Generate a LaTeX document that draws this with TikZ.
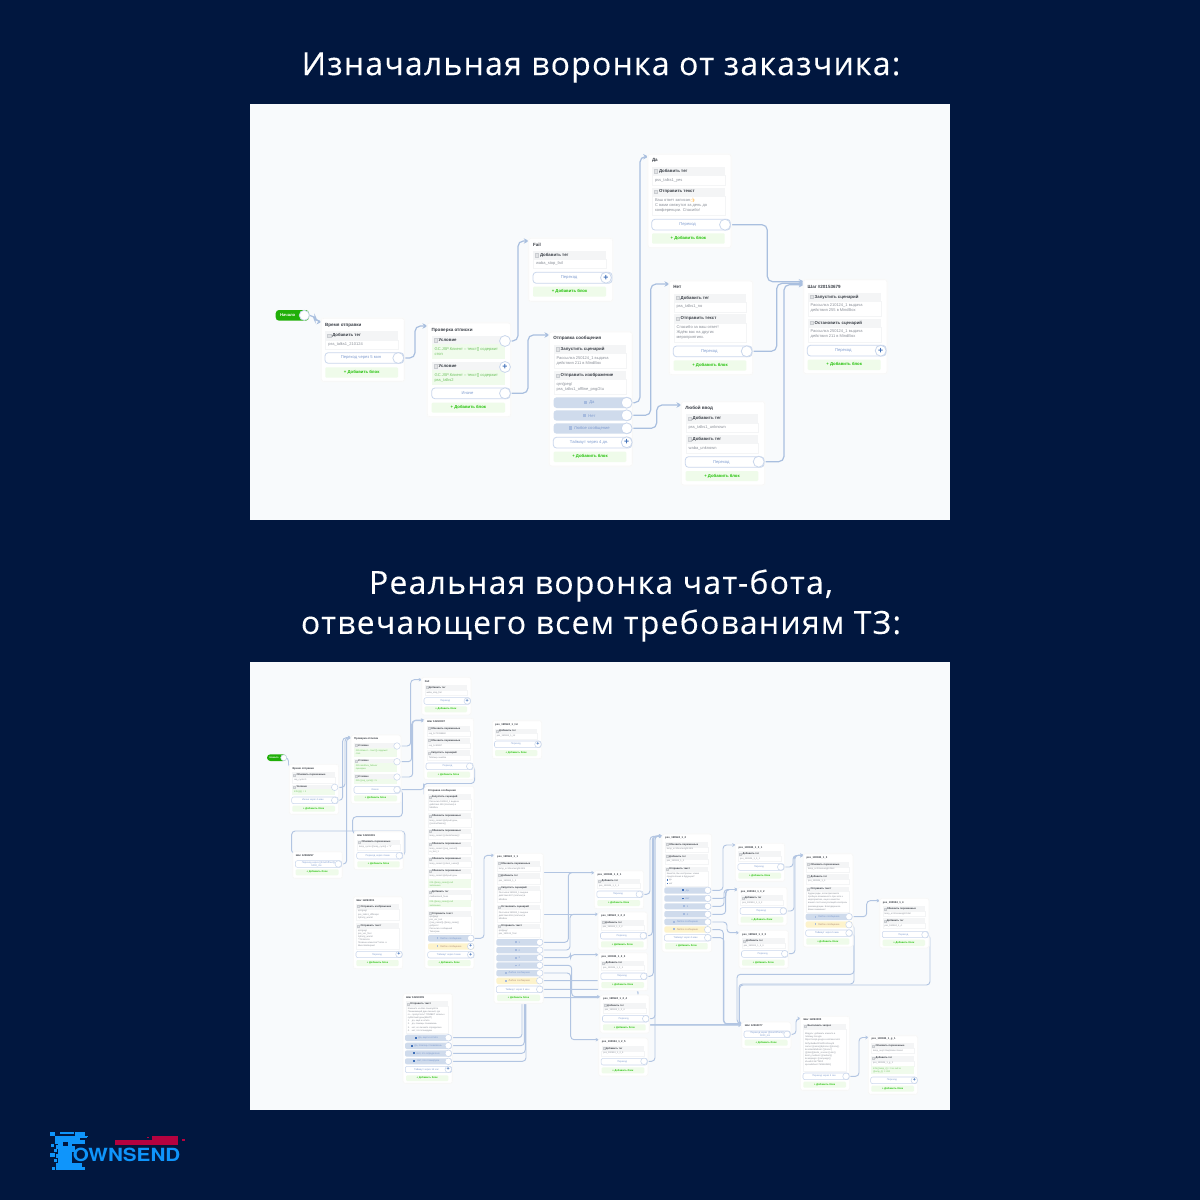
\documentclass[tikz,border=0pt]{standalone}
\usepackage{fontspec}
\setmainfont{Liberation Sans}
\newfontfamily\titlefont[LetterSpace=4,FakeBold=0.25]{Open Sans}
\newfontfamily\emj{Noto Emoji}
\newfontfamily\logofont{TeX Gyre Heros}
\usetikzlibrary{arrows.meta,calc}
\pgfdeclarelayer{panellayer}\pgfdeclarelayer{connlayer}
\pgfsetlayers{panellayer,connlayer,main}
\definecolor{navy}{HTML}{01173F}
\definecolor{panelc}{HTML}{F8FAFC}
\definecolor{hdrc}{HTML}{F4F5F6}
\definecolor{linec}{HTML}{A9BFDF}
\definecolor{btnline}{HTML}{CAD7EC}
\definecolor{btntxt}{HTML}{7F9CD0}
\definecolor{blueb}{HTML}{CFDBEC}
\definecolor{yelb}{HTML}{FDF3CC}
\definecolor{addb}{HTML}{EFFBEA}
\definecolor{addt}{HTML}{25C20A}
\definecolor{grnb}{HTML}{F0FBEC}
\definecolor{grnt}{HTML}{6CC25C}
\definecolor{bodyt}{HTML}{8A8F98}
\definecolor{darkt}{HTML}{3A3F47}
\definecolor{plusc}{HTML}{3F6FB8}
\definecolor{logob}{HTML}{0F95FB}
\definecolor{logor}{HTML}{B5023F}
\tikzset{
  x=0.75pt,y=-0.75pt,
  bxbase/.style={inner sep=0pt,outer sep=0pt,rectangle},
  panelbox/.style={bxbase,fill=panelc},
  cardbox/.style={bxbase,fill=white,rounded corners=1.5pt,draw=white,preaction={draw=black!2,line width=\shw},preaction={draw=black!3.5,line width=1.2pt}},
  hdrbox/.style={bxbase,fill=hdrc},
  bodybox/.style={bxbase,fill=white,draw=hdrc,line width=.3pt},
  grnbox/.style={bxbase,fill=grnb},
  btnbox/.style={bxbase,fill=white,draw=btnline,line width=\blw,rounded corners=\brc,text=btntxt},
  bluebox/.style={bxbase,fill=blueb,rounded corners=\brc,text=btntxt},
  yelbox/.style={bxbase,fill=yelb,rounded corners=\brc,text=btntxt!60!orange},
  addbox/.style={bxbase,fill=addb,rounded corners=.8pt,text=addt},
  startbox/.style={bxbase,fill=addt!90!black,rounded corners=2.5pt,text=white},
  portst/.style={circle,inner sep=0pt,outer sep=0pt,fill=white,draw=btnline,line width=\blw,minimum size=\psize pt},
  plusst/.style={portst,text=plusc,font=\bfseries\fontsize{\psfont}{\psfont}\selectfont},
  txtst/.style={inner sep=0pt,outer sep=0pt,anchor=west,align=left},
  linkA/.style={draw=linec,line width=.9pt,rounded corners=4pt,-{Stealth[length=4.2pt,width=4pt]}},
  linkB/.style={draw=linec!90,line width=.7pt,rounded corners=2.6pt,-{Stealth[length=2.8pt,width=2.6pt]}},
  linkN/.style={draw=linec!90,line width=.7pt,rounded corners=2.6pt},
}
\newcount\nn
\newcommand\bx[7]{\pgfmathsetmacro\bw{((#5)-(#3))*0.75}\pgfmathsetmacro\bh{((#6)-(#4))*0.75}%
  \node[#1,minimum width=\bw pt,minimum height=\bh pt] (#2) at ({((#3)+(#5))/2},{((#4)+(#6))/2}) {#7};}
\newcommand\abx[6]{\global\advance\nn by 1 \bx{#1}{n\the\nn}{#2}{#3}{#4}{#5}{#6}}
\newcommand\txt[4]{\global\advance\nn by 1 \node[txtst,font=#3] (n\the\nn) at ({#1},{#2}) {#4};}
\newcommand\setbig{%
  \def\shw{2.6pt}\def\blw{.6pt}\def\brc{2.4pt}\def\psize{8.2}\def\psfont{6.5}%
  \def\ftitle{\fontsize{3.4}{4.2}\selectfont\bfseries\color{darkt}}%
  \def\fhdr{\fontsize{3.25}{4}\selectfont\bfseries\color{darkt}}%
  \def\fbody{\fontsize{3}{3.75}\selectfont\color{bodyt}}%
  \def\fgrn{\fontsize{3}{3.75}\selectfont\color{grnt}}%
  \def\fbtn{\fontsize{3.1}{3.8}\selectfont}%
  \def\fadd{\fontsize{3.2}{4}\selectfont\bfseries}%
  \def\hin{7}\def\bin{3}\def\iwid{3.2}\def\iin{2.2}\def\bkern{5pt}\def\irule{2.4pt}}
\newcommand\setsmall{%
  \def\shw{2pt}\def\blw{.4pt}\def\brc{1.5pt}\def\psize{4.9}\def\psfont{4}%
  \def\ftitle{\fontsize{2}{2.5}\selectfont\bfseries\color{darkt}}%
  \def\fhdr{\fontsize{1.9}{2.4}\selectfont\bfseries\color{darkt}}%
  \def\fbody{\fontsize{1.7}{2.35}\selectfont\color{bodyt}}%
  \def\fgrn{\fontsize{1.7}{2.35}\selectfont\color{grnt}}%
  \def\fbtn{\fontsize{1.85}{2.3}\selectfont}%
  \def\fadd{\fontsize{1.9}{2.4}\selectfont\bfseries}%
  \def\hin{4.2}\def\bin{1.8}\def\iwid{2}\def\iin{1.2}\def\bkern{3pt}\def\irule{1.4pt}}
% header + white body
\newcommand\hd[5]{% x0 x1 y0 y1 text
  \abx{hdrbox}{#1}{#3}{#2}{#4}{}%
  \abx{bxbase,fill=bodyt!25,draw=bodyt!45,line width=.12pt}{(#1)+\iin}{((#3)+(#4))/2-\iwid/2}{(#1)+\iin+\iwid}{((#3)+(#4))/2+\iwid/2}{}%
  \txt{(#1)+\hin}{((#3)+(#4))/2}{\fhdr}{#5}}
\newcommand\blk[7]{% x0 x1 y0 y1 y2 hdr body
  \hd{#1}{#2}{#3}{#4}{#6}%
  \abx{bodybox}{#1}{#4}{#2}{#5}{}%
  \txt{(#1)+\bin}{((#4)+(#5))/2}{\fbody}{#7}}
\newcommand\gblk[7]{% x0 x1 y0 y1 y2 hdr greenbody
  \hd{#1}{#2}{#3}{#4}{#6}%
  \abx{grnbox}{#1}{#4}{#2}{#5}{}%
  \txt{(#1)+\bin}{((#4)+(#5))/2}{\fgrn}{#7}}
\newcommand\gbody[5]{% x0 x1 y1 y2 text
  \abx{grnbox}{#1}{#3}{#2}{#4}{}%
  \txt{(#1)+\bin}{((#3)+(#4))/2}{\fgrn}{#5}}
\newcommand\btn[6]{\abx{#1,font=\fbtn}{#2}{#3}{#4}{#5}{#6\kern\bkern}}
\newcommand\ic{{\color{btntxt!70}\rule{\irule}{\irule}}\kern.8pt\ }
\newcommand\icd{{\color{plusc}\rule{\irule}{\irule}}\kern.8pt\ }
\newcommand\add[4]{\abx{addbox,font=\fadd}{#1}{#2}{#3}{#4}{+ Добавить блок}}
\newcommand\port[3]{\node[portst] (#1) at (#2,#3) {};}
\newcommand\pplus[3]{\node[plusst] (#1) at (#2,#3) {+};}
% small one-tag card
\newcommand\tagcard[5]{% name x y title tag
  \bx{cardbox}{#1}{#2}{#3}{(#2)+48}{(#3)+36.7}{}%
  \txt{(#2)+2.5}{(#3)+3.6}{\ftitle}{#4}%
  \blk{(#2)+2.3}{(#2)+45}{(#3)+7.3}{(#3)+12}{(#3)+17.3}{Добавить тег}{#5}%
  \btn{btnbox}{(#2)+1.8}{(#3)+19.7}{(#2)+48}{(#3)+26.3}{Переход}%
  \add{(#2)+2.3}{(#3)+28.7}{(#2)+45}{(#3)+34.7}}
\newcommand\lk[5][linkB]{% style, from, midx, card, dy
  \coordinate (tgt) at ($(#4.north west)+(0,#5)$);
  \coordinate (mid) at (#3,0);
  \draw[#1] (#2) -- (#2 -| mid) -- (tgt -| mid) -- (tgt);}
\begin{document}
\begin{tikzpicture}
\useasboundingbox (0,0) rectangle (1200,1200);
\begin{pgfonlayer}{panellayer}
\fill[navy] (0,0) rectangle (1200,1200);
\bx{panelbox}{panelA}{250}{104}{950}{520}{}
\bx{panelbox}{panelB}{250}{662}{950}{1110}{}
\end{pgfonlayer}
\node[text=white,font=\titlefont\fontsize{23.9}{28}\selectfont] (title1) at (601,67.5) {Изначальная воронка от заказчика:};
\node[text=white,font=\titlefont\fontsize{23.9}{28}\selectfont] (title2) at (601,585.5) {Реальная воронка чат-бота,};
\node[text=white,font=\titlefont\fontsize{23.9}{28}\selectfont] (title3) at (601,625.5) {отвечающего всем требованиям ТЗ:};

%%%%%%%%%%%%%%%%%%%% TOP DIAGRAM
\setbig
\bx{startbox,font=\fbtn\bfseries}{start}{275.7}{310}{309}{320.7}{Начало\kern7pt}
\node[portst,minimum size=7.5pt] (pstart) at (304.3,315.3) {};

\bx{cardbox}{c1}{322}{319}{403.7}{380.7}{}
\txt{325}{325}{\ftitle}{Время отправки}
\blk{325.3}{398}{331}{339.7}{349}{Добавить тег}{pss\_talks1\_210124}
\btn{btnbox}{325}{352.7}{403.7}{363.3}{Переход через 5 мин}
\add{325.3}{367.3}{398}{377.7}
\port{p1}{398.3}{358}

\bx{cardbox}{c2}{428}{323.7}{510}{416}{}
\txt{431.7}{330}{\ftitle}{Проверка отписки}
\gblk{431.7}{505}{336}{344.3}{358.7}{Условие}{GC.JSP.Клиент – текст[] содержит\\стоп}
\gblk{431.7}{505}{362}{370.3}{384.7}{Условие}{GC.JSP.Клиент – текст[] содержит\\pss\_talks2}
\btn{btnbox}{431.7}{388}{510}{398.7}{Иначе}
\add{431.7}{402.7}{505}{412.7}
\port{p2a}{505}{341}
\pplus{p2b}{505}{367}
\port{p2c}{505}{393.3}

\bx{cardbox}{c3}{529.3}{239}{612}{300.7}{}
\txt{533}{244.7}{\ftitle}{Fail}
\blk{533}{606}{251}{259.3}{268}{Добавить тег}{wаba\_stop\_fail}
\btn{btnbox}{533}{272.3}{612}{283.3}{Переход}
\add{533}{286.7}{606}{296.7}
\pplus{p3}{606}{277.7}

\bx{cardbox}{c4}{550}{332.7}{631.7}{465.3}{}
\txt{553.3}{338.7}{\ftitle}{Отправка сообщения}
\blk{553.7}{626.3}{345}{353.3}{367.7}{Запустить сценарий}{Рассылка 250124\_1 выдача\\действия 211 в MindBox}
\blk{553.7}{626.3}{371.3}{379.3}{394}{Отправить изображение}{qrn/jpeg/\\pss\_talks1\_offline\_png/2tu}
\btn{bluebox}{553.5}{397.3}{631.7}{408}{\ic Да}
\btn{bluebox}{553.5}{410.3}{631.7}{420.7}{\ic Нет}
\btn{bluebox}{553.5}{423.3}{631.7}{433.7}{\ic Любое сообщение}
\btn{btnbox}{553.3}{437.3}{631.7}{448}{Таймаут через 4 дн.}
\add{553.7}{451.7}{626.3}{462}
\port{p4a}{626.7}{402.7}
\port{p4b}{626.7}{415.3}
\port{p4c}{626.7}{428.3}
\pplus{p4d}{626.7}{442.3}

\bx{cardbox}{c5}{648.7}{155}{730.3}{247}{}
\txt{652}{160.7}{\ftitle}{Да}
\blk{652}{724.7}{167}{175.3}{184.7}{Добавить тег}{pss\_talks1\_yes}
\blk{652}{724.7}{187.7}{196}{215.3}{Отправить текст}{Ваш ответ записан{\color{orange!80!yellow}\emj 👍}\\С вами свяжутся за день до\\конференции. Спасибо!}
\btn{btnbox}{651.7}{219.3}{730.3}{230}{Переход}
\add{652}{233.3}{724.7}{243.7}
\port{p5}{725}{224.7}

\bx{cardbox}{c6}{670}{281.7}{752}{374}{}
\txt{673.3}{287}{\ftitle}{Нет}
\blk{673.7}{746.3}{293.7}{302}{311.7}{Добавить тег}{pss\_talks1\_no}
\blk{673.7}{746.3}{314.3}{322.7}{342}{Отправить текст}{Спасибо за ваш ответ!\\Ждём вас на других\\мероприятиях.}
\btn{btnbox}{673.3}{346}{752}{356.7}{Переход}
\add{673.7}{360.3}{746.3}{370.7}
\port{p6}{746.7}{351.3}

\bx{cardbox}{c7}{682}{402.3}{764}{484.3}{}
\txt{685.3}{408}{\ftitle}{Любой ввод}
\blk{685.7}{758.3}{414.3}{422.7}{432.3}{Добавить тег}{pss\_talks1\_unknown}
\blk{685.7}{758.3}{435}{443.3}{452.7}{Добавить тег}{waba\_unknown}
\btn{btnbox}{685.3}{456.7}{764}{467.3}{Переход}
\add{685.7}{471}{758.3}{481}
\port{p7}{758.7}{461.7}

\bx{cardbox}{c8}{804.3}{280.3}{886.3}{373}{}
\txt{807.7}{286.7}{\ftitle}{Шаг \#20153679}
\blk{807.7}{880.7}{292.7}{301}{315.7}{Запустить сценарий}{Рассылка 210124\_1 выдача\\действия 255 в MindBox}
\blk{807.7}{880.7}{318.7}{327}{341.7}{Остановить сценарий}{Рассылка 250124\_1 выдача\\действия 211 в MindBox}
\btn{btnbox}{807.3}{345.3}{886}{356}{Переход}
\add{807.7}{359.7}{880.7}{370}
\pplus{p8}{880.7}{350.7}

\begin{pgfonlayer}{connlayer}
\lk[linkA]{pstart}{315}{c1}{2.7}
\lk[linkA]{p1}{415}{c2}{2.3}
\lk[linkA]{p2a}{518}{c3}{2}
\lk[linkA]{p2c}{528}{c4}{2.3}
\lk[linkA]{p4a}{640}{c5}{1.7}
\lk[linkA]{p4b}{650.7}{c6}{2.3}
\lk[linkA]{p4c}{656.7}{c7}{2.7}
\lk[linkA]{p5}{767.3}{c8}{1.4}
\lk[linkA]{p6}{776.7}{c8}{3}
\lk[linkA]{p7}{784}{c8}{4.4}
\end{pgfonlayer}

%%%%%%%%%%%%%%%%%%%% BOTTOM DIAGRAM
\setsmall
\bx{startbox,font=\fbtn\bfseries}{bstart}{267}{754.3}{286.7}{761}{Начало\kern4pt}
\node[portst,minimum size=4.4pt] (bpstart) at (283.7,757.7) {};

% Время отправки
\bx{cardbox}{b1}{290}{765}{338}{813.7}{}
\txt{292.5}{768.7}{\ftitle}{Время отправки}
\blk{292.3}{335}{772.3}{777.3}{782.7}{Обновить переменные}{req\_cycle=0}
\gblk{292.3}{335}{784.7}{789.3}{794.7}{Условие}{\#{JS}\{\{x\}\} = 1}
\btn{btnbox}{291.7}{797}{338}{803.7}{Иначе через 6 мин}
\add{292.3}{805.7}{335}{811.7}
\port{bp1a}{334.7}{787.3}
\port{bp1b}{334.7}{800.3}

% Проверка отписки
\bx{cardbox}{b2}{351.7}{735.7}{400.3}{803}{}
\txt{354.2}{739.3}{\ftitle}{Проверка отписки}
\gblk{354}{397}{743}{748}{756.7}{Условие}{\#{JS}.Клиент – текст[] содержит\\стоп}
\gblk{354}{397}{758.7}{763.3}{772}{Условие}{\#{JS}.mindbox\_failover\\сценарии}
\gblk{354}{397}{774.3}{778.7}{784}{Условие}{\#{JS}.\{\{req\_cycle\}\} = 5}
\btn{btnbox}{354}{786.3}{400.3}{793.3}{Иначе}
\add{354}{795.3}{397}{801.3}
\port{bp2a}{397}{746}
\port{bp2b}{397}{761.7}
\port{bp2c}{397}{777}
\port{bp2d}{397}{789.7}

% Fail
\bx{cardbox}{b3}{422.3}{678}{470.3}{714.3}{}
\txt{424.8}{681.3}{\ftitle}{Fail}
\blk{424.7}{467}{685}{690}{695.3}{Добавить тег}{wаba\_stop\_fail}
\btn{btnbox}{424}{697.7}{470.3}{704.3}{Переход}
\add{424.7}{706.3}{467}{712.3}
\pplus{bp3}{467.3}{701}

% Шаг 12263097
\bx{cardbox}{b4}{424.7}{719}{473}{779}{}
\txt{427.2}{722}{\ftitle}{Шаг 12263097}
\blk{427}{470}{726}{731}{736}{Обновить переменные}{req\_b=71098860}
\blk{427}{470}{738}{743}{748}{Обновить переменные}{req\_b=80897}
\blk{427}{470}{750.3}{755.3}{760.3}{Запустить сценарий}{Таблица ошибок}
\btn{btnbox}{426}{763}{473}{769.7}{Переход}
\add{427}{771.7}{470}{777.7}
\port{bp4}{469.7}{766.3}

% pss_txt
\bx{cardbox}{b5}{493}{721.3}{541}{758}{}
\txt{495.2}{725}{\ftitle}{pss\_190924\_1\_txt}
\blk{495}{537.3}{728.7}{733.3}{738.7}{Добавить тег}{pss\_190924\_1\_txt}
\btn{btnbox}{494.5}{741}{541}{747.7}{Переход}
\add{495}{750}{537.3}{756}
\pplus{bp5}{538}{744.3}

% Отправка сообщения (long)
\bx{cardbox}{b6}{425.3}{787}{473.3}{968}{}
\txt{427.8}{790.3}{\ftitle}{Отправка сообщения}
\blk{427.7}{470.7}{794.3}{799}{810.3}{Запустить сценарий}{Рассылка 190924\_1 выдача\\действия 459 (платная) в\\Mindbox}
\blk{427.7}{470.7}{813.3}{818}{827}{Обновить переменные}{temp\_namet=Добрый день,\\{{\{\{}}contactNamе\}\}}
\blk{427.7}{470.7}{829}{833.3}{839}{Обновить переменные}{temp\_namet=\{\{clientsName\}\}!}
\blk{427.7}{470.7}{841.7}{846}{854}{Обновить переменные}{temp\_namet=\{\{req\_namet\}\}\\ru\_text\_1}
\blk{427.7}{470.7}{856.7}{861}{866.7}{Обновить переменные}{temp\_namet=\{\{client\_name\}\}!}
\blk{427.7}{470.7}{869}{873.3}{879.3}{Обновить переменные}{temp\_namet=Добрый день}
\gbody{427.7}{470.7}{879.3}{888.3}{\#{JS}.\{\{temp\_name\}\}.null\\заполнено}
\blk{427.7}{470.7}{890}{894}{900}{Добавить тег}{mailbackend\_fixes}
\gbody{427.7}{470.7}{900}{907.3}{\#{JS}.\{\{temp\_name\}\}.null\\заполнено}
\blk{427.7}{470.7}{911.3}{915.7}{933.3}{Отправить текст}{qrn/jpeg/\\pss\_ver\_text\\\{\{req\_namet\}\}.\{\{temp\_name\}\}\\доброго!\\Рассылка сообщений\\Телеграм}
\btn{bluebox}{428}{935}{474}{941.7}{\ic Любое сообщение}
\btn{yelbox}{428}{943.3}{474}{949.7}{\ic Любое сообщение}
\btn{btnbox}{427.7}{951.7}{474}{958}{Таймаут через 5 мин}
\add{427.7}{960}{470.7}{966}
\port{bp6a}{470.7}{938.3}
\pplus{bp6b}{470.7}{946.3}
\pplus{bp6c}{470.7}{954.7}

% Шаг 12263291
\bx{cardbox}{b7}{354.7}{832.3}{402.7}{869}{}
\txt{357.2}{835.7}{\ftitle}{Шаг 12263291}
\blk{357.3}{399.7}{840}{844.3}{850}{Обновить переменные}{temp\_cycle=\{\{temp\_cycle\}\} + "1"}
\btn{btnbox}{356.7}{852.3}{402.7}{859}{Переход через 4 мин}
\add{357.3}{861.3}{399.7}{867.3}
\port{bp7}{399.3}{855.7}

% Шаг 12263297
\bx{cardbox}{b8}{293.3}{852.3}{341.7}{877.7}{}
\txt{295.8}{855.7}{\ftitle}{Шаг 12263297}
\btn{btnbox,align=center}{295.3}{860.7}{341.7}{867.3}{Переход через \{\{timeDiffrent\}\}\\5000\_ms}
\add{295.7}{869.3}{338.5}{875.3}
\port{bp8}{338.3}{864}

% Шаг 12263301
\bx{cardbox}{b9}{354}{897.3}{402}{968}{}
\txt{356.5}{900.7}{\ftitle}{Шаг 12263301}
\blk{356.3}{398.7}{904.3}{908.7}{920.3}{Отправить изображение}{qrn/jpeg/\\pss\_talks1\_offlinepic\\1pfonly\_warmt}
\blk{356.3}{398.7}{923.3}{928}{948.7}{Отправить текст}{qrn/jpeg/\\pss\_ver\_Text\\1pfonly\_warmt\\**Оплатите\\Позвони клиентов**Links. в\\МногоНабирают}
\btn{btnbox}{356}{951.3}{402}{957.7}{Переход}
\add{356.3}{960}{398.7}{966}
\pplus{bp9}{399}{954.3}

% Шаг 12263309
\bx{cardbox}{b10}{403.7}{994.3}{451.7}{1082.7}{}
\txt{406.2}{997.7}{\ftitle}{Шаг 12263309}
\blk{406}{448.3}{1001.3}{1006}{1033.3}{Отправить текст}{Кликните на Вас пожалуйста\\Понимающий душ личный, где\\го – пропустить? ПРИВЕТ запись к\\субботний день(ВНИТ)\\1.\quad да, ещё и хотите\\2.\quad да, помощь понимаешь\\3.\quad нет, но сможете определено\\4.\quad нет, это планируем}
\btn{bluebox}{405}{1034.7}{451.7}{1041}{\icd Да, ещё и хотите}
\btn{bluebox}{405}{1042.7}{451.7}{1049}{\icd Да, помощь понимаешь}
\btn{bluebox}{405}{1050.3}{451.7}{1056.7}{\icd Нет, это определено}
\btn{bluebox}{405}{1058.3}{451.7}{1064.3}{\icd Нет, это планируем}
\btn{btnbox}{405.3}{1066.3}{451.7}{1072.7}{Таймаут через 14 час}
\add{406}{1075.3}{448.3}{1081}
\port{bp10a}{448.3}{1037.7}
\port{bp10b}{448.3}{1045.7}
\port{bp10c}{448.3}{1053.3}
\port{bp10d}{448.3}{1061.3}
\pplus{bp10e}{448.3}{1069.3}

% pss_190924_1_1
\bx{cardbox}{b11}{494.7}{854}{542.7}{1002.7}{}
\txt{497.2}{857}{\ftitle}{pss\_190924\_1\_1}
\blk{497}{540}{861}{866}{871.3}{Обновить переменные}{temp\_a=1\#{}someright.html}
\blk{497}{540}{873}{877.7}{883.7}{Добавить тег}{pss\_190924\_1\_1}
\blk{497}{540}{885.7}{890.3}{902}{Запустить сценарий}{Рассылка 190924\_1 выдача\\действия 497 (платная) в\\Mindbox}
\blk{497}{540}{904.7}{909.3}{921.7}{Остановить сценарий}{Рассылка 190924\_1 выдача\\действия 459 (платная) в\\Mindbox}
\blk{497}{540}{924}{928.3}{937}{Отправить текст}{qrn/jpeg/\\pss\_190124\_Text}
\btn{bluebox}{496.3}{939}{542.7}{945.7}{\ic 1}
\btn{bluebox}{496.3}{947}{542.7}{953.3}{\ic 2}
\btn{bluebox}{496.3}{954.7}{542.7}{961.3}{\ic 3}
\btn{bluebox}{496.3}{962.3}{542.7}{968.7}{\ic 4}
\btn{bluebox}{496.3}{970}{542.7}{976.3}{\ic Любое сообщение}
\btn{yelbox}{496.3}{977.7}{542.7}{984}{\ic Любое сообщение}
\btn{btnbox}{496.3}{986}{542.7}{992.7}{Таймаут через 5 мин}
\abx{addbox,font=\fadd}{497}{994.7}{540}{1001}{+ Добавить блок}
\port{bq1}{539.7}{942.3}
\port{bq2}{539.7}{950}
\port{bq3}{539.7}{957.7}
\port{bq4}{539.7}{965.3}
\port{bq5}{539.7}{973}
\port{bq6}{539.7}{980.7}
\port{bq7}{539.7}{989.3}
\coordinate (bq8) at (540,997.7);

% 1_2_x cards
\tagcard{d1}{595}{871.3}{pss\_190924\_1\_2\_1}{pss\_190924\_1\_2\_1}
\tagcard{d2}{598.7}{912.7}{pss\_190924\_1\_2\_2}{pss\_190924\_1\_2\_2}
\tagcard{d3}{599}{953.3}{pss\_190924\_1\_2\_3}{pss\_190924\_1\_2\_3}
\tagcard{d4}{600.7}{995.7}{pss\_190924\_1\_2\_4}{pss\_190924\_1\_2\_4}
\tagcard{d5}{599.3}{1038.7}{pss\_190924\_1\_2\_5}{pss\_190924\_1\_2\_5}
\port{pd1}{639.3}{894.3}
\port{pd2}{643.3}{935.7}
\port{pd3}{643.7}{976.3}
\port{pd4}{645.7}{1018.7}
\port{pd5}{644}{1061.3}

% 1_2
\bx{cardbox}{e0}{662.7}{834.7}{711}{951.3}{}
\txt{665.2}{838}{\ftitle}{pss\_190924\_1\_2}
\blk{665}{707.7}{842}{846.7}{852}{Обновить переменные}{temp\_a=1\#{}someright.html}
\blk{665}{707.7}{854}{858.7}{864}{Добавить тег}{pss\_190924\_1\_2}
\blk{665}{707.7}{866.7}{871.3}{886}{Отправить текст}{Кажется, Вы настроены: какие\\предпочтения в будущем?\\{\color{plusc}\rule{1.2pt}{1.2pt}} да\\{\color{plusc}\rule{1.2pt}{1.2pt}} нет}
\btn{bluebox}{664.3}{887.3}{711}{893.7}{\icd Да}
\btn{bluebox}{664.3}{895.3}{711}{901.7}{\icd Нет}
\btn{bluebox}{664.3}{903.3}{711}{909.3}{\ic 3}
\btn{bluebox}{664.3}{911}{711}{917.3}{\ic 4}
\btn{bluebox}{664.3}{918.7}{711}{925}{\ic Любое сообщение}
\btn{yelbox}{664.3}{926.3}{711}{932.7}{\ic Любое сообщение}
\btn{btnbox}{664.3}{934.7}{711}{941}{Таймаут через 5 мин}
\add{665}{943}{707.7}{949.3}
\port{pe1}{707.7}{890.3}
\port{pe2}{707.7}{898.3}
\port{pe3}{707.7}{906.3}
\port{pe4}{707.7}{914.3}
\port{pe5}{707.7}{922}
\port{pe6}{707.7}{929.7}
\port{pe7}{707.7}{937.7}

% 1_3_x cards
\tagcard{f1}{736}{844}{pss\_190924\_1\_3\_1}{pss\_190924\_1\_3\_1}
\tagcard{f2}{738.3}{888}{pss\_190924\_1\_3\_2}{pss\_190924\_1\_3\_2}
\tagcard{f3}{739.7}{931}{pss\_190924\_1\_3\_3}{pss\_190924\_1\_3\_3}
\port{pf1}{780.7}{867}
\port{pf2}{783.3}{911}
\port{pf3}{784.7}{953.7}

% 1_3
\bx{cardbox}{g0}{804}{854.3}{852.3}{946.3}{}
\txt{806.5}{857.7}{\ftitle}{pss\_190924\_1\_3}
\blk{806.3}{849.3}{862}{866.7}{872}{Обновить переменные}{temp\_a=2\#{}someright.html}
\blk{806.3}{849.3}{874}{878.7}{884}{Добавить тег}{pss\_190924\_1\_3}
\blk{806.3}{849.3}{886.7}{891}{912.3}{Отправить текст}{Будем рады, если приложите\\пробную возможность при чате к\\мероприятию, еще в качестве\\вашего пост-консультаций и вопросы\\рекомендации. Благодарим за\\Ваше внимание!}
\btn{bluebox}{805.7}{913.7}{852.3}{920}{\ic Любое сообщение}
\btn{yelbox}{805.7}{921.3}{852.3}{927.7}{\ic Любое сообщение}
\btn{btnbox}{805.7}{930}{852.3}{936.3}{Таймаут через 5 мин}
\add{806.3}{938.3}{849.3}{944.7}
\port{pg1}{849}{916.7}
\port{pg2}{849}{924.7}
\port{pg3}{849}{933}

% 1_4
\bx{cardbox}{h0}{880.3}{899}{928.3}{947.3}{}
\txt{882.8}{902.7}{\ftitle}{pss\_190924\_1\_4}
\blk{882.7}{925}{906.3}{911}{916.3}{Обновить переменные}{temp\_a=3\#{}someright.html}
\blk{882.7}{925}{918.3}{923}{928.3}{Добавить тег}{pss\_190924\_1\_4}
\btn{btnbox}{882.3}{931.3}{928.3}{937.7}{Переход}
\add{882.7}{939.7}{925}{946}
\port{ph}{925}{934.7}

% Шаг 12263377
\bx{cardbox}{k0}{742.3}{1022.7}{790.3}{1048}{}
\txt{744.8}{1026}{\ftitle}{Шаг 12263377}
\btn{btnbox,align=center}{744}{1031}{790.3}{1037.7}{Переход через \{\{timeDiffrent\}\}\\5000\_ms}
\add{744.7}{1039.7}{787.5}{1045.7}
\port{pk}{787}{1034.3}

% Шаг 12263305
\bx{cardbox}{m0}{801}{1017}{849}{1089.7}{}
\txt{803.5}{1020}{\ftitle}{Шаг 12263305}
\blk{803.3}{846}{1024}{1028.7}{1070.7}{Выполнить запрос}{Модуль: добавить клиента в\\таблицу Google\\https://script.google.com/macros/s/\\AKfycbwBw0PmdZL6GaxyI8\\name=\{\{name\}\}\&phone=\{\{phone\}\}\\\&contactMethod=\{"phone"\}\\\{\{\{date\}\}\}\&utm\_source=\{\{utm\}\}\\\&utm\_medium=\{\{medium\}\}\\\&campaign=\{\{campaign\}\}\\sheetId=1k7T8DZ\\spreadsheet=7k5Bn3N3Q}
\btn{btnbox}{803}{1073}{849}{1079.7}{Переход через 3 сек}
\add{803.3}{1081.7}{846}{1087.7}
\port{pm}{846}{1076.3}

% g_1
\bx{cardbox}{n0}{869}{1036.3}{917}{1093.7}{}
\txt{871.5}{1039.3}{\ftitle}{pss\_190924\_1\_g\_1}
\blk{871.3}{914}{1043.3}{1048}{1053.3}{Обновить переменные}{temp\_req2=ReqStatus=Good}
\blk{871.3}{914}{1055.7}{1060.7}{1065.7}{Добавить тег}{pss\_190924\_1\_g\_1}
\gbody{871.3}{914}{1065.7}{1074.3}{\#{JS}.\{\{temp\_r\}\} = 0 or null or\\\{\{temp\_r\}\} != 200}
\btn{btnbox}{870.7}{1077}{917}{1083.7}{Переход}
\add{871.3}{1085.7}{914}{1091.7}
\pplus{pn}{914.3}{1080.3}

\begin{pgfonlayer}{connlayer}
\lk{bpstart}{288.5}{b1}{2.5}
\lk{bp1a}{345}{b2}{2}
\lk{bp1b}{342.7}{b2}{2}
\lk{bp8}{346.7}{b2}{2}
\lk{bp2a}{410.7}{b3}{1.7}
\lk{bp2b}{411.7}{b4}{1.7}
\lk{bp2c}{412.7}{b4}{1}
\lk{bp2d}{424}{b6}{1.7}
\coordinate (tgt) at ($(b6.north west)+(0,1.7)$);
\draw[linkB] (bp4) -- (474.6,766.3) -- (474.6,783.5) -- (423.6,783.5) -- (423.6,788.7) -- (tgt);
\coordinate (tgt) at ($(b7.north west)+(0,1.7)$);
\draw[linkB] (bp2d) -- (402.3,789.7) -- (402.3,816.7) -- (352.7,816.7) -- (352.7,834) -- (tgt);
\coordinate (tgt) at ($(b8.north west)+(0,1.7)$);
\draw[linkB] (bp7) -- (404.8,855.7) -- (404.8,831) -- (291.7,831) -- (291.7,854) -- (tgt);
\lk{bp6a}{484}{b11}{1.4}
\lk{bq1}{568.3}{d1}{1.4}
\lk{bq2}{570}{d2}{1.6}
\lk{bq3}{570.5}{d3}{1.4}
\lk{bq4}{571.7}{d4}{1}
\lk{bq5}{570.7}{d5}{1}
\coordinate (hm) at (638,0);
\coordinate (km) at ($(k0.north west)+(0,2.2)$);
\foreach \s in {bq6,bq7,bq8}{\draw[linkB] (\s) -- (\s -| hm) -- (km -| hm) -- (km);}
\coordinate (t1) at ($(d1.north west)+(0,1.4)$);
\coordinate (t2) at ($(d2.north west)+(0,1.6)$);
\draw[linkN] (b11.east |- t1) -- (t1);
\draw[linkN] (b11.east |- t2) -- (t2);
\lk{pd1}{650}{e0}{1.6}
\lk{pd2}{652.3}{e0}{1.4}
\lk{pd3}{653.3}{e0}{1.4}
\lk{pd4}{655}{e0}{1.2}
\lk{pd5}{655}{e0}{1.2}
\lk{pe1}{723}{f1}{1}
\lk{pe2}{726}{f2}{1.5}
\lk{pe3}{724}{f2}{1.5}
\lk{pe4}{725.7}{f2}{1.5}
\lk{pe5}{727}{f3}{1.7}
\lk{pe6}{723.3}{k0}{1}
\lk{pe7}{724}{k0}{1.6}
\lk{pf1}{793}{g0}{1.2}
\lk{pf2}{794}{g0}{1.2}
\lk{pf3}{795}{g0}{.8}
\lk{pg1}{866.7}{h0}{1.7}
\coordinate (tgt) at ($(k0.north west)+(0,.6)$);
\draw[linkB] (pg2) -- (854,924.7) -- (854,974.3) -- (737,974.3) -- (737,1023.3) -- (tgt);
\coordinate (tgt) at ($(k0.north west)+(0,1.3)$);
\draw[linkB] (pg3) -- (854,933) -- (854,984) -- (739,984) -- (739,1024) -- (tgt);
\coordinate (tgt) at ($(k0.north west)+(0,1.8)$);
\draw[linkB] (ph) -- (930,934.7) -- (930,985) -- (739.5,985) -- (739.5,1024.5) -- (tgt);
\lk{pk}{796}{m0}{1.5}
\lk{pm}{859}{n0}{1.2}
\coordinate (m1) at (522,0);\coordinate (m2) at (524.3,0);\coordinate (m3) at (525.3,0);\coordinate (m4) at (526,0);
\draw[linkN] (bp10a) -- (bp10a -| m1) -- (m1 |- b11.south);
\draw[linkN] (bp10b) -- (bp10b -| m2) -- (m2 |- b11.south);
\draw[linkN] (bp10c) -- (bp10c -| m3) -- (m3 |- b11.south);
\draw[linkN] (bp10d) -- (bp10d -| m4) -- (m4 |- b11.south);
\end{pgfonlayer}

%%%%%%%%%%%%%%%%%%%% LOGO
\foreach \a/\b/\c/\d in {
 55/1136/80/1143.5, 58.3/1136.7/71.7/1170, 50/1132/55/1135.5, 60/1132/73.5/1134, 75/1132/85/1135.5, 80/1135.5/86.5/1138,
 75/1140/85/1143.5, 50.5/1143.5/54/1146.5, 53.5/1148.5/56.5/1152, 50/1152.5/55/1156.5, 53.5/1158.5/56.5/1161.5, 51.5/1166.5/55/1169.5,
 56/1145/58.3/1149, 55.5/1154/58.3/1158, 56/1163/58.3/1170, 71.7/1146/75/1152, 71.7/1163/82/1170, 82/1166.5/85/1170, 85/1136/88/1136.8}
 {\fill[logob] (\a,\b) rectangle (\c,\d);}
\fill[navy] (63,1142) rectangle (68,1146);
\fill[logor] (115,1140) rectangle (178.3,1145);
\foreach \a/\b/\c/\d in {147/1136.5/149/1138, 152/1136/178/1140, 182/1138.5/185/1140.5}
 {\fill[logor] (\a,\b) rectangle (\c,\d);}
\node[anchor=west,inner sep=0pt,xscale=1.14,text=logob,font=\logofont\bfseries\fontsize{13.6}{14}\selectfont] (logotext) at (72.5,1154.5) {OWNSEND};
\end{tikzpicture}
\end{document}
